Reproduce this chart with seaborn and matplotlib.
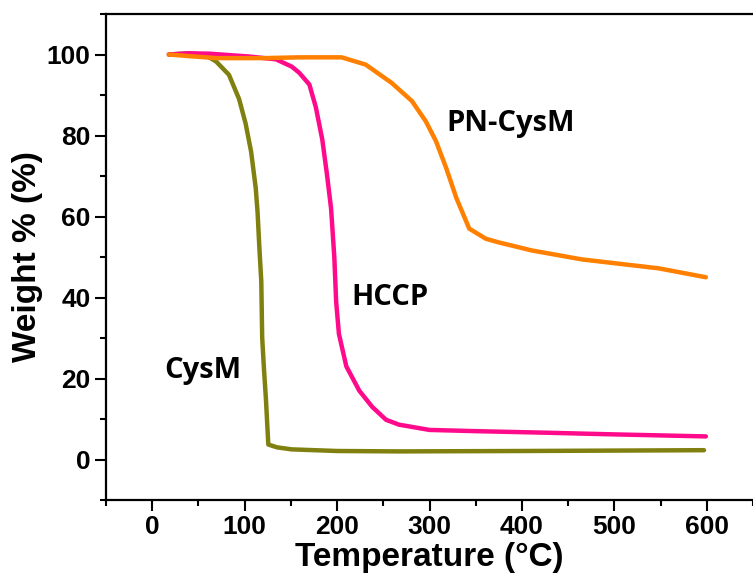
import numpy as np
import pandas as pd
import matplotlib
matplotlib.use("Agg")
import matplotlib.pyplot as plt
import seaborn as sns
from matplotlib.ticker import MultipleLocator

# TGA curves
cysm_t = [18, 40, 60, 69, 83, 94, 101, 107, 112, 114, 116, 118, 119, 121, 123, 125.6, 135, 151, 200, 267, 400, 500, 597]
cysm_w = [100.0, 100.3, 99.5, 98.3, 95, 89, 83, 76, 67, 61, 52, 44, 30, 22, 15, 3.7, 3.0, 2.5, 2.1, 2.0, 2.1, 2.2, 2.3]

hccp_t = [18, 40, 62, 105, 134, 151, 159, 170, 177, 184, 189, 193.5, 197, 199, 202, 210, 224, 238, 253, 267, 300, 350, 429, 500, 599]
hccp_w = [100.0, 100.3, 100.2, 99.5, 98.8, 97, 95.5, 92.6, 87, 79, 70.5, 62, 50, 39, 31, 23, 17, 13, 9.8, 8.6, 7.3, 7.0, 6.6, 6.2, 5.7]

pn_t = [18, 40, 70, 120, 159, 205, 231, 259, 281, 296, 307, 318, 329, 343, 361, 375, 411, 465, 548, 599]
pn_w = [100.0, 99.6, 99.1, 99.1, 99.3, 99.3, 97.5, 93, 88.5, 83.5, 78.6, 72, 64.6, 57, 54.5, 53.6, 51.6, 49.4, 47.2, 45.0]

series = [
    ("CysM", cysm_t, cysm_w, "#808010"),
    ("HCCP", hccp_t, hccp_w, "#FF0A8A"),
    ("PN-CysM", pn_t, pn_w, "#FF8000"),
]

sns.set_style("ticks")
plt.rcParams["font.family"] = ["Liberation Sans", "DejaVu Sans"]
plt.rcParams.update({"text.color": "black", "axes.labelcolor": "black",
                     "xtick.color": "black", "ytick.color": "black"})

fig = plt.figure(figsize=(7.53, 5.81), dpi=100)
ax = fig.add_axes([106 / 753, 1 - 500 / 581, (753 - 106) / 753, (500 - 14) / 581])

for name, t, w, c in series:
    df = pd.DataFrame({"T": t, "W": w})
    sns.lineplot(data=df, x="T", y="W", ax=ax, color=c, linewidth=3.2, sort=False)

ax.set_xlim(-50, 650)
ax.set_ylim(-10, 110)
ax.xaxis.set_major_locator(MultipleLocator(100))
ax.xaxis.set_minor_locator(MultipleLocator(50))
ax.yaxis.set_major_locator(MultipleLocator(20))
ax.yaxis.set_minor_locator(MultipleLocator(10))
ax.tick_params(which="major", length=8, width=1.5, labelsize=19, pad=3)
ax.tick_params(which="minor", length=4.5, width=1.5)
for lab in ax.get_xticklabels() + ax.get_yticklabels():
    lab.set_fontweight("bold")
for s in ["left", "bottom", "top"]:
    ax.spines[s].set_linewidth(1.6)
    ax.spines[s].set_color("black")
ax.spines["right"].set_visible(False)

ax.set_xlabel("Temperature (°C)", fontsize=24, fontweight="bold", labelpad=2)
ax.set_ylabel("Weight % (%)", fontsize=24, fontweight="bold", labelpad=3)

ann = dict(fontsize=21, fontweight="bold", family=["Open Sans", "DejaVu Sans"],
           va="center", ha="left", color="black")
ax.text(318, 83, "PN-CysM", **ann)
ax.text(215, 40, "HCCP", **ann)
ax.text(13, 22, "CysM", **ann)

fig.savefig("out.png", dpi=100)
